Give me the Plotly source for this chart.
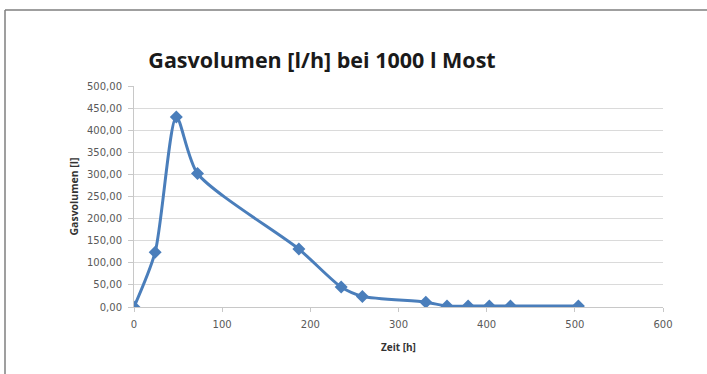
import plotly.graph_objects as go

zeit_h = [0, 24, 48, 72, 187, 235, 259, 331, 355, 379, 403, 427, 504]
gasvolumen_l = [0.0, 124.0, 430.0, 302.0, 131.0, 45.0, 24.0, 11.0, 2.0, 2.0, 2.0, 2.0, 2.0]

title_text = "Gasvolumen [l/h] bei 1000 l Most"
x_title = "Zeit [h]"
y_title = "Gasvolumen [l]"

blue = "#4a7ebb"
W, H = 707, 374
ml, mr, mt, mb = 134, 44, 86, 67
pw = W - ml - mr
ph = H - mt - mb

def px(xpix):
    return (xpix - ml) / pw

def py(ypix):
    return (H - mb - ypix) / ph

fig = go.Figure()
fig.add_trace(go.Scatter(
    x=zeit_h, y=gasvolumen_l, mode="lines+markers",
    line=dict(color=blue, width=3, shape="spline", smoothing=0.7),
    marker=dict(symbol="diamond", size=10, color=blue),
    showlegend=False, hoverinfo="x+y",
))

tickfont = dict(family="DejaVu Sans, sans-serif", size=10, color="#595959")

fig.update_layout(
    width=W, height=H,
    margin=dict(l=ml, r=mr, t=mt, b=mb),
    paper_bgcolor="white", plot_bgcolor="white",
    separators=",.",
    font=dict(family="Open Sans, Lato, sans-serif", color="#595959", size=10),
    title=dict(text=title_text, xref="container", x=322 / W, xanchor="center",
               yref="container", y=1 - 60 / H, yanchor="middle",
               font=dict(family="Open Sans, sans-serif", size=21.5, color="#1a1a1a", weight="bold")),
    xaxis=dict(range=[0, 600], dtick=100, tick0=0, showgrid=False, zeroline=False,
               showline=True, linecolor="#c8c8c8", linewidth=1,
               ticks="outside", ticklen=4, tickcolor="#c8c8c8",
               tickfont=tickfont, ticklabelstandoff=4,
               title=dict(text=x_title, standoff=14,
                          font=dict(size=10, color="#333333", weight="bold"))),
    yaxis=dict(range=[0, 500], dtick=50, tick0=0, tickformat=".2f",
               showgrid=True, gridcolor="#dadada", gridwidth=1, zeroline=False,
               showline=True, linecolor="#c8c8c8", linewidth=1,
               ticks="outside", ticklen=5, tickcolor="#c8c8c8",
               tickfont=tickfont, ticklabelstandoff=4,
               title=dict(text=y_title, standoff=6,
                          font=dict(size=10.5, color="#333333", weight="bold"))),
    shapes=[
        dict(type="line", xref="paper", yref="paper", x0=px(5), x1=px(W), y0=py(10), y1=py(10),
             line=dict(color="#7f7f7f", width=1.5)),
        dict(type="line", xref="paper", yref="paper", x0=px(5), x1=px(5), y0=py(10), y1=py(H),
             line=dict(color="#7f7f7f", width=1.5)),
    ],
)

fig.write_html("out.html", config={"displayModeBar": False},
               post_script="document.body.style.margin='0px';document.body.style.overflow='hidden';")
